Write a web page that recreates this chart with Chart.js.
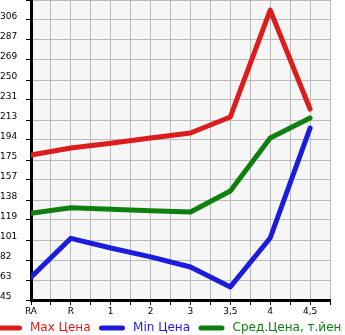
<!DOCTYPE html>
<html>
<head>
<meta charset="utf-8">
<script src="https://cdn.jsdelivr.net/npm/chart.js@4/dist/chart.umd.min.js"></script>
<style>
  html, body { margin: 0; padding: 0; background: #fff; }
  #wrap { width: 345px; height: 335px; }
</style>
</head>
<body>
<div id="wrap"><canvas id="chart"></canvas></div>
<script>
// categories on the x axis
var categories = ['RA', 'R', '1', '2', '3', '3,5', '4', '4,5'];
// prices
var maxPrice = [180, 186.5, 191, 195.8, 200.5, 215.4, 315, 222.8];
var minPrice = [66, 102.3, 93.3, 85, 75.6, 57, 102.6, 205.1];
var avgPrice = [125.6, 130.8, 129.5, 128, 126.8, 146.4, 195.8, 214.4];
var seriesNames = ['Max Цена', 'Min Цена', 'Сред.Цена, т.йен'];
var seriesColors = ['#dd1c1c', '#1c1cdd', '#0f800f'];
// y axis ticks
var yMin = 44.8;
var yStep = 18.643;
var yCount = 15;

function toPoints(arr) {
  var pts = [];
  for (var i = 0; i < arr.length; i++) pts.push({x: i, y: arr[i]});
  return pts;
}

var plotBg = {
  id: 'plotBg',
  beforeDraw: function(chart) {
    var a = chart.chartArea, ctx = chart.ctx;
    ctx.save();
    ctx.fillStyle = '#f6f6f6';
    ctx.fillRect(a.left, a.top, a.right - a.left, a.bottom - a.top);
    ctx.restore();
  }
};

// legend in a single row under the axis, text in series colour
var lineLegend = {
  id: 'lineLegend',
  afterDraw: function(chart) {
    var ctx = chart.ctx;
    var y = chart.height - 7;
    var x = -4;
    ctx.save();
    ctx.font = '12px "DejaVu Sans"';
    ctx.textBaseline = 'middle';
    ctx.lineCap = 'round';
    ctx.lineWidth = 5;
    chart.data.datasets.forEach(function(ds) {
      ctx.strokeStyle = ds.borderColor;
      ctx.beginPath();
      ctx.moveTo(x + 2.5, y);
      ctx.lineTo(x + 23.5, y);
      ctx.stroke();
      x += 34;
      ctx.fillStyle = ds.borderColor;
      ctx.fillText(ds.label, x, y);
      x += ctx.measureText(ds.label).width + 8.5;
    });
    ctx.restore();
  }
};

var font = {family: 'DejaVu Sans', size: 9};

new Chart(document.getElementById('chart'), {
  type: 'line',
  data: {
    datasets: [maxPrice, minPrice, avgPrice].map(function(d, i) {
      return {
        label: seriesNames[i],
        data: toPoints(d),
        borderColor: seriesColors[i],
        backgroundColor: seriesColors[i],
        borderWidth: 5,
        pointRadius: 0,
        tension: 0,
        borderCapStyle: 'round',
        borderJoinStyle: 'round'
      };
    })
  },
  options: {
    responsive: true,
    maintainAspectRatio: false,
    animation: false,
    layout: {padding: {left: 0, right: 15, top: 0, bottom: 0}},
    plugins: {
      tooltip: {enabled: false},
      legend: {display: false}
    },
    scales: {
      x: {
        type: 'linear',
        min: 0,
        max: 7.5,
        afterBuildTicks: function(scale) {
          var t = [];
          for (var v = 0; v <= 7.5; v += 0.5) t.push({value: v});
          scale.ticks = t;
        },
        afterFit: function(scale) {
          scale.height = 35;
          scale.paddingLeft = 0;
          scale.paddingRight = 0;
        },
        ticks: {
          autoSkip: false,
          maxRotation: 0,
          padding: 1,
          color: '#000',
          font: font,
          callback: function(v) {
            return Number.isInteger(v) && categories[v] !== undefined ? categories[v] : '';
          }
        },
        grid: {color: '#bbbbbb', lineWidth: 1, tickColor: '#000', tickLength: 5},
        border: {color: '#000', width: 3}
      },
      y: {
        min: yMin,
        max: yMin + yStep * yCount,
        afterBuildTicks: function(scale) {
          var t = [];
          for (var i = 0; i <= yCount; i++) t.push({value: yMin + yStep * i});
          scale.ticks = t;
        },
        afterFit: function(scale) {
          scale.width = 31;
          scale.paddingTop = 0;
          scale.paddingBottom = 0;
        },
        ticks: {
          color: '#000',
          font: font,
          crossAlign: 'far',
          labelOffset: -3,
          padding: 2,
          callback: function(v, i) {
            return i === yCount ? '' : String(Math.round(v));
          }
        },
        grid: {color: '#bbbbbb', lineWidth: 1, tickColor: '#000', tickLength: 5},
        border: {color: '#000', width: 3}
      }
    }
  },
  plugins: [plotBg, lineLegend]
});
</script>
</body>
</html>
